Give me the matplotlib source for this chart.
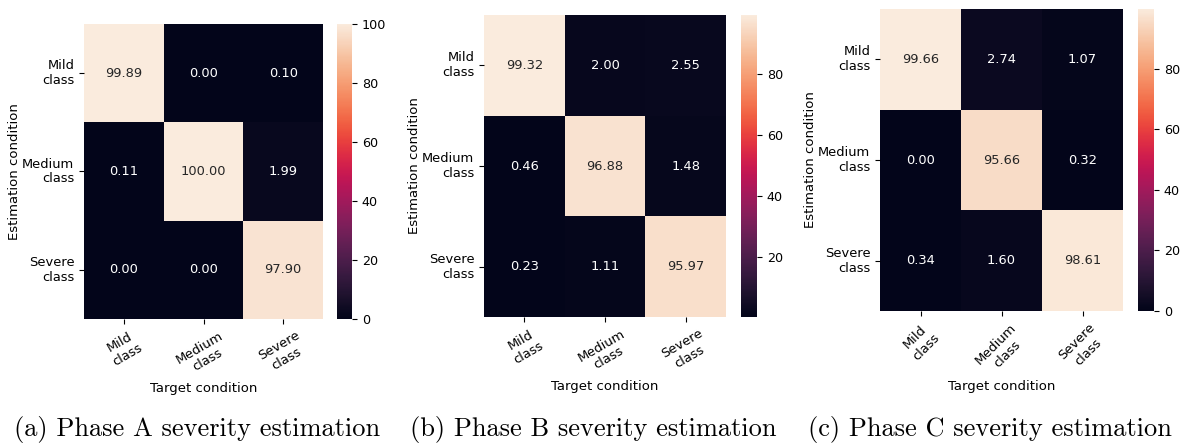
import numpy as np
import matplotlib
matplotlib.use("Agg")
import matplotlib.pyplot as plt
import seaborn as sns

classes = ["Mild\nclass", "Medium\nclass", "Severe\nclass"]

phase_a = [[99.89, 0.00, 0.10],
           [0.11, 100.00, 1.99],
           [0.00, 0.00, 97.90]]
phase_b = [[99.32, 2.00, 2.55],
           [0.46, 96.88, 1.48],
           [0.23, 1.11, 95.97]]
phase_c = [[99.66, 2.74, 1.07],
           [0.00, 95.66, 0.32],
           [0.34, 1.60, 98.61]]

captions = ["(a) Phase A severity estimation",
            "(b) Phase B severity estimation",
            "(c) Phase C severity estimation"]

W, H = 1186, 444
fig = plt.figure(figsize=(W / 100, H / 100), dpi=100)

# posiciones en pixeles: heatmap, colorbar, centro del caption, rotacion
paneles = [
    (phase_a, (84, 24, 323, 319), (337, 352), 197, 30),
    (phase_b, (484, 15, 726, 317), (741, 757), 593, 30),
    (phase_c, (880, 9, 1123, 311), (1138, 1154), 990, 45),
]

for i, (datos, (x0, y0, x1, y1), (c0, c1), xcap, rot) in enumerate(paneles):
    ax = fig.add_axes([x0 / W, 1 - y1 / H, (x1 - x0) / W, (y1 - y0) / H])
    cax = fig.add_axes([c0 / W, 1 - y1 / H, (c1 - c0) / W, (y1 - y0) / H])
    sns.heatmap(np.array(datos), annot=True, fmt=".2f", ax=ax, cbar_ax=cax,
                xticklabels=classes, yticklabels=classes,
                annot_kws={"fontsize": 9.4})
    ax.set_xticklabels(classes, rotation=rot, fontsize=9.4)
    ax.set_yticklabels(classes, rotation=0, fontsize=9.4)
    ax.set_xlabel("Target condition", fontsize=9.5, labelpad=2)
    ax.set_ylabel("Estimation condition", fontsize=9.5, labelpad=1)
    cax.tick_params(labelsize=9.2)
    fig.text(xcap / W, 1 - 436 / H, captions[i], ha="center", va="baseline",
             fontsize=19, family="cmr10")

fig.savefig("out.png", dpi=100)
